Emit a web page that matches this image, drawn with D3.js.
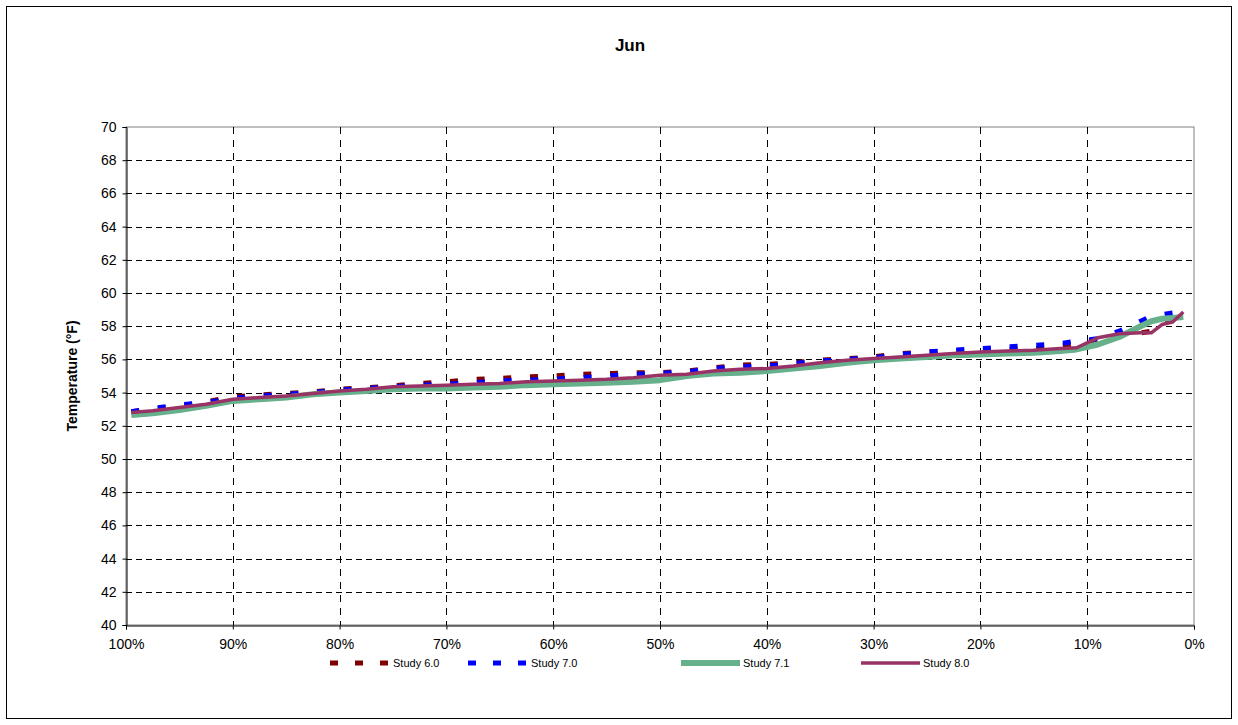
<!DOCTYPE html>
<html>
<head>
<meta charset="utf-8">
<script src="https://cdn.jsdelivr.net/npm/d3@7"></script>
<style>
  html, body { margin: 0; padding: 0; background: #fff; }
  svg { display: block; font-family: "Liberation Sans", Arial, sans-serif; }
</style>
</head>
<body>
<svg id="chart" width="1238" height="725"></svg>
<script>
// Exceedance percentage for each point
const exceedance = [99.5, 97.5, 95, 92.5, 90, 87.5, 85, 82.5, 80, 77.5, 75, 72.5, 70, 67.5, 65, 62.5, 60, 57.5, 55, 52.5, 50, 47.5, 45, 42.5, 40, 37.5, 35, 32.5, 30, 27.5, 25, 22.5, 20, 17.5, 15, 12.5, 11, 9, 7, 5, 4, 3, 2, 1];

// Temperatures (°F) for each study
const study60 = [52.85, 53.0, 53.2, 53.45, 53.75, 53.85, 53.95, 54.05, 54.2, 54.3, 54.4, 54.55, 54.65, 54.8, 54.85, 54.95, 55.0, 55.1, 55.15, 55.2, 55.2, 55.3, 55.5, 55.65, 55.7, 55.8, 55.95, 56.05, 56.15, 56.35, 56.45, 56.5, 56.55, 56.6, 56.65, 56.8, 56.95, 57.2, 57.5, 57.6, 57.7, 58.2, 58.4, 58.9];
const study70 = [52.85, 53.05, 53.25, 53.4, 53.65, 53.8, 53.9, 54.0, 54.15, 54.25, 54.35, 54.45, 54.5, 54.6, 54.7, 54.75, 54.8, 54.9, 55.0, 55.1, 55.15, 55.25, 55.45, 55.55, 55.6, 55.75, 55.9, 56.0, 56.1, 56.3, 56.45, 56.55, 56.65, 56.75, 56.85, 56.95, 57.1, 57.25, 57.7, 58.3, 58.6, 58.7, 58.8, 58.95];
const study71 = [52.65, 52.75, 52.95, 53.2, 53.5, 53.6, 53.7, 53.9, 54.0, 54.1, 54.2, 54.25, 54.25, 54.3, 54.35, 54.45, 54.5, 54.55, 54.6, 54.65, 54.75, 55.0, 55.15, 55.2, 55.3, 55.45, 55.6, 55.8, 55.95, 56.05, 56.15, 56.25, 56.3, 56.35, 56.4, 56.5, 56.6, 56.9, 57.35, 58.0, 58.3, 58.45, 58.5, 58.55];
const study80 = [52.8, 52.9, 53.1, 53.3, 53.6, 53.7, 53.8, 53.95, 54.1, 54.2, 54.35, 54.4, 54.45, 54.5, 54.55, 54.65, 54.7, 54.75, 54.8, 54.9, 55.05, 55.1, 55.3, 55.4, 55.45, 55.6, 55.8, 55.95, 56.05, 56.15, 56.25, 56.35, 56.45, 56.5, 56.55, 56.65, 56.7, 57.3, 57.55, 57.6, 57.6, 58.1, 58.25, 58.85];

const xTicks = [100, 90, 80, 70, 60, 50, 40, 30, 20, 10, 0];
const yTicks = [40, 42, 44, 46, 48, 50, 52, 54, 56, 58, 60, 62, 64, 66, 68, 70];

const seriesNames = ["Study 6.0", "Study 7.0", "Study 7.1", "Study 8.0"];
const seriesValues = [study60, study70, study71, study80];

const styles = {
  "Study 6.0": { color: "#800000", width: 5, dash: "8,18.7" },
  "Study 7.0": { color: "#0000ff", width: 5, dash: "8,18.7" },
  "Study 7.1": { color: "#66b08c", width: 6, dash: null },
  "Study 8.0": { color: "#993366", width: 3.5, dash: null }
};

const svg = d3.select("#chart");
const plot = { left: 126, top: 127, right: 1194, bottom: 625 };

// Outer chart frame
svg.append("rect")
  .attr("x", 6.5).attr("y", 6.5)
  .attr("width", 1225).attr("height", 712)
  .attr("fill", "#fff").attr("stroke", "#000").attr("stroke-width", 1);

const x = d3.scaleLinear().domain([100, 0]).range([plot.left, plot.right]);
const y = d3.scaleLinear().domain([40, 70]).range([plot.bottom, plot.top]);

// Plot area border (top/right in gray)
svg.append("rect")
  .attr("x", plot.left).attr("y", plot.top)
  .attr("width", plot.right - plot.left).attr("height", plot.bottom - plot.top)
  .attr("fill", "#fff").attr("stroke", "#808080").attr("stroke-width", 1);

// Horizontal gridlines
svg.append("g").selectAll("line")
  .data(yTicks.filter(d => d > 40 && d < 70))
  .join("line")
  .attr("x1", plot.left).attr("x2", plot.right)
  .attr("y1", d => Math.round(y(d)) + 0.5).attr("y2", d => Math.round(y(d)) + 0.5)
  .attr("stroke", "#000").attr("stroke-width", 1)
  .attr("stroke-dasharray", "6,4");

// Vertical gridlines
svg.append("g").selectAll("line")
  .data(xTicks.filter(d => d > 0 && d < 100))
  .join("line")
  .attr("x1", d => Math.round(x(d)) + 0.5).attr("x2", d => Math.round(x(d)) + 0.5)
  .attr("y1", plot.top).attr("y2", plot.bottom)
  .attr("stroke", "#000").attr("stroke-width", 1)
  .attr("stroke-dasharray", "7,6");

// Axes
const yAxis = d3.axisLeft(y).tickValues(yTicks).tickSize(4).tickPadding(6).tickFormat(d3.format("d"));
const gy = svg.append("g").attr("transform", `translate(${plot.left + 0.5},0)`).call(yAxis);
gy.select(".domain").attr("stroke", "#000");
gy.selectAll(".tick line").attr("stroke", "#000");
gy.selectAll(".tick text").attr("font-size", 14).attr("fill", "#000")
  .attr("font-family", "Liberation Sans, Arial, sans-serif");

const xAxis = d3.axisBottom(x).tickValues(xTicks).tickSize(4).tickPadding(10).tickFormat(d => d + "%");
const gx = svg.append("g").attr("transform", `translate(0,${plot.bottom + 0.5})`).call(xAxis);
gx.select(".domain").attr("stroke", "#000");
gx.selectAll(".tick line").attr("stroke", "#000");
gx.selectAll(".tick text").attr("font-size", 14).attr("fill", "#000")
  .attr("font-family", "Liberation Sans, Arial, sans-serif");

// Series lines
const line = d3.line()
  .x((d, i) => x(exceedance[i]))
  .y(d => y(d));

seriesNames.forEach((name, k) => {
  const s = styles[name];
  svg.append("path")
    .datum(seriesValues[k])
    .attr("d", line)
    .attr("fill", "none")
    .attr("stroke", s.color)
    .attr("stroke-width", s.width)
    .attr("stroke-dasharray", s.dash)
    .attr("stroke-linejoin", "round");
});

// Title
svg.append("text")
  .attr("x", 630).attr("y", 51)
  .attr("text-anchor", "middle")
  .attr("font-size", 17).attr("font-weight", "bold")
  .text("Jun");

// Y-axis title
svg.append("text")
  .attr("transform", `translate(77,${(plot.top + plot.bottom) / 2}) rotate(-90)`)
  .attr("text-anchor", "middle")
  .attr("font-size", 14).attr("font-weight", "bold")
  .text("Temperature (°F)");

// Legend
const legendItems = [
  { name: "Study 6.0", x1: 330, x2: 388, tx: 393 },
  { name: "Study 7.0", x1: 468, x2: 527, tx: 531 },
  { name: "Study 7.1", x1: 681, x2: 740, tx: 743 },
  { name: "Study 8.0", x1: 861, x2: 920, tx: 923 }
];
const ly = 663;
const lg = svg.append("g");
legendItems.forEach(item => {
  const s = styles[item.name];
  lg.append("line")
    .attr("x1", item.x1).attr("x2", item.x2)
    .attr("y1", ly).attr("y2", ly)
    .attr("stroke", s.color)
    .attr("stroke-width", s.width)
    .attr("stroke-dasharray", s.dash ? "8,17" : null);
  lg.append("text")
    .attr("x", item.tx).attr("y", ly + 4)
    .attr("font-size", 11)
    .text(item.name);
});
</script>
</body>
</html>
